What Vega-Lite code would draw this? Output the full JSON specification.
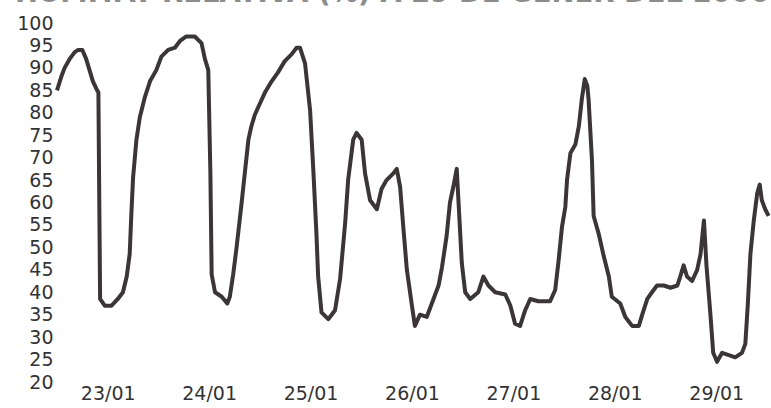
{
  "$schema": "https://vega.github.io/schema/vega-lite/v6.json",
  "autosize": "none",
  "width": 712,
  "height": 359,
  "padding": {"left": 57, "top": 23, "right": 2, "bottom": 26},
  "background": "white",
  "title": {
    "text": "HUMITAT RELATIVA (%) A 29 DE GENER DEL 2006",
    "anchor": "start",
    "frame": "group",
    "dx": -42,
    "dy": -7,
    "offset": 0,
    "font": "DejaVu Sans",
    "fontSize": 27.5,
    "fontWeight": "bold",
    "color": "#8c8c8c"
  },
  "config": {
    "view": {"stroke": null},
    "axis": {
      "labelFont": "DejaVu Sans",
      "labelFontSize": 19,
      "labelColor": "#333333",
      "domain": false,
      "ticks": false,
      "grid": false,
      "title": null
    }
  },
  "data": {
    "values": [
      {"t": "2006-01-23T00:00", "hr": 85},
      {"t": "2006-01-23T01:00", "hr": 88},
      {"t": "2006-01-23T01:48", "hr": 90},
      {"t": "2006-01-23T03:00", "hr": 92},
      {"t": "2006-01-23T04:12", "hr": 93.5},
      {"t": "2006-01-23T05:00", "hr": 94},
      {"t": "2006-01-23T06:00", "hr": 94},
      {"t": "2006-01-23T06:54", "hr": 92},
      {"t": "2006-01-23T07:42", "hr": 89.5},
      {"t": "2006-01-23T08:30", "hr": 87},
      {"t": "2006-01-23T09:30", "hr": 85},
      {"t": "2006-01-23T09:48", "hr": 84.5},
      {"t": "2006-01-23T10:00", "hr": 61},
      {"t": "2006-01-23T10:12", "hr": 38.5},
      {"t": "2006-01-23T11:18", "hr": 37},
      {"t": "2006-01-23T12:54", "hr": 37},
      {"t": "2006-01-23T14:24", "hr": 38.5},
      {"t": "2006-01-23T15:36", "hr": 40},
      {"t": "2006-01-23T16:30", "hr": 43.5},
      {"t": "2006-01-23T17:12", "hr": 48.5},
      {"t": "2006-01-23T17:36", "hr": 57.5},
      {"t": "2006-01-23T18:00", "hr": 65.5},
      {"t": "2006-01-23T18:48", "hr": 74},
      {"t": "2006-01-23T19:36", "hr": 79},
      {"t": "2006-01-23T20:48", "hr": 83.5},
      {"t": "2006-01-23T22:00", "hr": 87},
      {"t": "2006-01-23T23:30", "hr": 89.5},
      {"t": "2006-01-24T00:42", "hr": 92.5},
      {"t": "2006-01-24T02:18", "hr": 94},
      {"t": "2006-01-24T03:54", "hr": 94.5},
      {"t": "2006-01-24T05:06", "hr": 96},
      {"t": "2006-01-24T06:36", "hr": 97},
      {"t": "2006-01-24T08:36", "hr": 97},
      {"t": "2006-01-24T10:12", "hr": 95.5},
      {"t": "2006-01-24T11:00", "hr": 92},
      {"t": "2006-01-24T11:48", "hr": 89.5},
      {"t": "2006-01-24T12:18", "hr": 66.5},
      {"t": "2006-01-24T12:36", "hr": 44},
      {"t": "2006-01-24T13:24", "hr": 40},
      {"t": "2006-01-24T15:00", "hr": 39},
      {"t": "2006-01-24T16:18", "hr": 37.5},
      {"t": "2006-01-24T16:54", "hr": 39},
      {"t": "2006-01-24T17:42", "hr": 44},
      {"t": "2006-01-24T18:30", "hr": 50},
      {"t": "2006-01-24T19:42", "hr": 60},
      {"t": "2006-01-24T20:30", "hr": 67},
      {"t": "2006-01-24T21:18", "hr": 74},
      {"t": "2006-01-24T22:00", "hr": 77},
      {"t": "2006-01-24T22:48", "hr": 79.5},
      {"t": "2006-01-25T00:00", "hr": 82},
      {"t": "2006-01-25T01:12", "hr": 84.5},
      {"t": "2006-01-25T02:48", "hr": 87},
      {"t": "2006-01-25T04:18", "hr": 89},
      {"t": "2006-01-25T05:54", "hr": 91.5},
      {"t": "2006-01-25T07:30", "hr": 93},
      {"t": "2006-01-25T08:42", "hr": 94.5},
      {"t": "2006-01-25T09:30", "hr": 94.5},
      {"t": "2006-01-25T10:42", "hr": 91},
      {"t": "2006-01-25T11:54", "hr": 80.5},
      {"t": "2006-01-25T12:42", "hr": 66.5},
      {"t": "2006-01-25T13:24", "hr": 53},
      {"t": "2006-01-25T13:48", "hr": 43.5},
      {"t": "2006-01-25T14:36", "hr": 35.5},
      {"t": "2006-01-25T16:12", "hr": 34},
      {"t": "2006-01-25T17:48", "hr": 36},
      {"t": "2006-01-25T19:00", "hr": 43},
      {"t": "2006-01-25T20:12", "hr": 55.5},
      {"t": "2006-01-25T20:54", "hr": 65},
      {"t": "2006-01-25T22:06", "hr": 74},
      {"t": "2006-01-25T22:54", "hr": 75.5},
      {"t": "2006-01-26T00:06", "hr": 74},
      {"t": "2006-01-26T00:54", "hr": 66.5},
      {"t": "2006-01-26T02:06", "hr": 60.5},
      {"t": "2006-01-26T03:42", "hr": 58.5},
      {"t": "2006-01-26T04:48", "hr": 63},
      {"t": "2006-01-26T06:00", "hr": 65},
      {"t": "2006-01-26T07:36", "hr": 66.5},
      {"t": "2006-01-26T08:24", "hr": 67.5},
      {"t": "2006-01-26T09:12", "hr": 63.5},
      {"t": "2006-01-26T10:00", "hr": 54},
      {"t": "2006-01-26T10:48", "hr": 45},
      {"t": "2006-01-26T12:00", "hr": 37},
      {"t": "2006-01-26T12:42", "hr": 32.5},
      {"t": "2006-01-26T13:54", "hr": 35},
      {"t": "2006-01-26T15:30", "hr": 34.5},
      {"t": "2006-01-26T17:06", "hr": 38.5},
      {"t": "2006-01-26T18:18", "hr": 41.5},
      {"t": "2006-01-26T19:06", "hr": 45.5},
      {"t": "2006-01-26T20:12", "hr": 52.5},
      {"t": "2006-01-26T21:00", "hr": 60},
      {"t": "2006-01-26T21:48", "hr": 63.5},
      {"t": "2006-01-26T22:36", "hr": 67.5},
      {"t": "2006-01-26T23:00", "hr": 60.5},
      {"t": "2006-01-26T23:48", "hr": 46.5},
      {"t": "2006-01-27T00:36", "hr": 40},
      {"t": "2006-01-27T01:48", "hr": 38.5},
      {"t": "2006-01-27T03:42", "hr": 40},
      {"t": "2006-01-27T04:54", "hr": 43.5},
      {"t": "2006-01-27T06:06", "hr": 41.5},
      {"t": "2006-01-27T07:42", "hr": 40},
      {"t": "2006-01-27T10:06", "hr": 39.5},
      {"t": "2006-01-27T11:18", "hr": 37},
      {"t": "2006-01-27T12:24", "hr": 33},
      {"t": "2006-01-27T13:36", "hr": 32.5},
      {"t": "2006-01-27T14:48", "hr": 36},
      {"t": "2006-01-27T16:00", "hr": 38.5},
      {"t": "2006-01-27T17:54", "hr": 38},
      {"t": "2006-01-27T20:42", "hr": 38},
      {"t": "2006-01-27T21:54", "hr": 40.5},
      {"t": "2006-01-27T22:42", "hr": 47},
      {"t": "2006-01-27T23:30", "hr": 54.5},
      {"t": "2006-01-28T00:18", "hr": 59},
      {"t": "2006-01-28T00:42", "hr": 65},
      {"t": "2006-01-28T01:30", "hr": 71},
      {"t": "2006-01-28T02:42", "hr": 73},
      {"t": "2006-01-28T03:30", "hr": 77},
      {"t": "2006-01-28T04:12", "hr": 83},
      {"t": "2006-01-28T04:54", "hr": 87.5},
      {"t": "2006-01-28T05:30", "hr": 86},
      {"t": "2006-01-28T05:48", "hr": 83},
      {"t": "2006-01-28T06:36", "hr": 69.5},
      {"t": "2006-01-28T07:00", "hr": 57},
      {"t": "2006-01-28T08:12", "hr": 53},
      {"t": "2006-01-28T09:24", "hr": 48},
      {"t": "2006-01-28T10:36", "hr": 43.5},
      {"t": "2006-01-28T11:18", "hr": 39},
      {"t": "2006-01-28T13:18", "hr": 37.5},
      {"t": "2006-01-28T14:30", "hr": 34.5},
      {"t": "2006-01-28T16:06", "hr": 32.5},
      {"t": "2006-01-28T17:42", "hr": 32.5},
      {"t": "2006-01-28T18:30", "hr": 35},
      {"t": "2006-01-28T19:42", "hr": 38.5},
      {"t": "2006-01-28T20:48", "hr": 40},
      {"t": "2006-01-28T22:00", "hr": 41.5},
      {"t": "2006-01-28T23:36", "hr": 41.5},
      {"t": "2006-01-29T01:12", "hr": 41},
      {"t": "2006-01-29T02:48", "hr": 41.5},
      {"t": "2006-01-29T03:30", "hr": 43.5},
      {"t": "2006-01-29T04:18", "hr": 46},
      {"t": "2006-01-29T05:06", "hr": 43.5},
      {"t": "2006-01-29T06:18", "hr": 42.5},
      {"t": "2006-01-29T07:30", "hr": 45},
      {"t": "2006-01-29T08:18", "hr": 48.5},
      {"t": "2006-01-29T09:06", "hr": 56},
      {"t": "2006-01-29T09:42", "hr": 46},
      {"t": "2006-01-29T10:36", "hr": 35.5},
      {"t": "2006-01-29T11:18", "hr": 26.5},
      {"t": "2006-01-29T12:12", "hr": 24.5},
      {"t": "2006-01-29T13:24", "hr": 26.5},
      {"t": "2006-01-29T15:00", "hr": 26},
      {"t": "2006-01-29T16:30", "hr": 25.5},
      {"t": "2006-01-29T18:06", "hr": 26.5},
      {"t": "2006-01-29T18:54", "hr": 28.5},
      {"t": "2006-01-29T19:30", "hr": 37.5},
      {"t": "2006-01-29T20:06", "hr": 48.5},
      {"t": "2006-01-29T20:54", "hr": 56},
      {"t": "2006-01-29T21:42", "hr": 62},
      {"t": "2006-01-29T22:18", "hr": 64},
      {"t": "2006-01-29T22:48", "hr": 60.5},
      {"t": "2006-01-29T23:36", "hr": 58.5},
      {"t": "2006-01-30T00:24", "hr": 57}
    ]
  },
  "mark": {"type": "line", "color": "#3b3535", "strokeWidth": 4, "strokeJoin": "round"},
  "encoding": {
    "x": {
      "field": "t",
      "type": "temporal",
      "scale": {"domain": [{"year": 2006, "month": 1, "date": 23, "hours": 0}, {"year": 2006, "month": 1, "date": 30, "hours": 0, "minutes": 30}]},
      "axis": {
        "values": [
          {"year": 2006, "month": 1, "date": 23, "hours": 12},
          {"year": 2006, "month": 1, "date": 24, "hours": 12},
          {"year": 2006, "month": 1, "date": 25, "hours": 12},
          {"year": 2006, "month": 1, "date": 26, "hours": 12},
          {"year": 2006, "month": 1, "date": 27, "hours": 12},
          {"year": 2006, "month": 1, "date": 28, "hours": 12},
          {"year": 2006, "month": 1, "date": 29, "hours": 12}
        ],
        "format": "%d/%m",
        "labelPadding": 2,
        "labelFlush": false
      }
    },
    "y": {
      "field": "hr",
      "type": "quantitative",
      "scale": {"domain": [20, 100], "nice": false, "zero": false},
      "axis": {
        "values": [20, 25, 30, 35, 40, 45, 50, 55, 60, 65, 70, 75, 80, 85, 90, 95, 100],
        "labelPadding": 4
      }
    }
  }
}
